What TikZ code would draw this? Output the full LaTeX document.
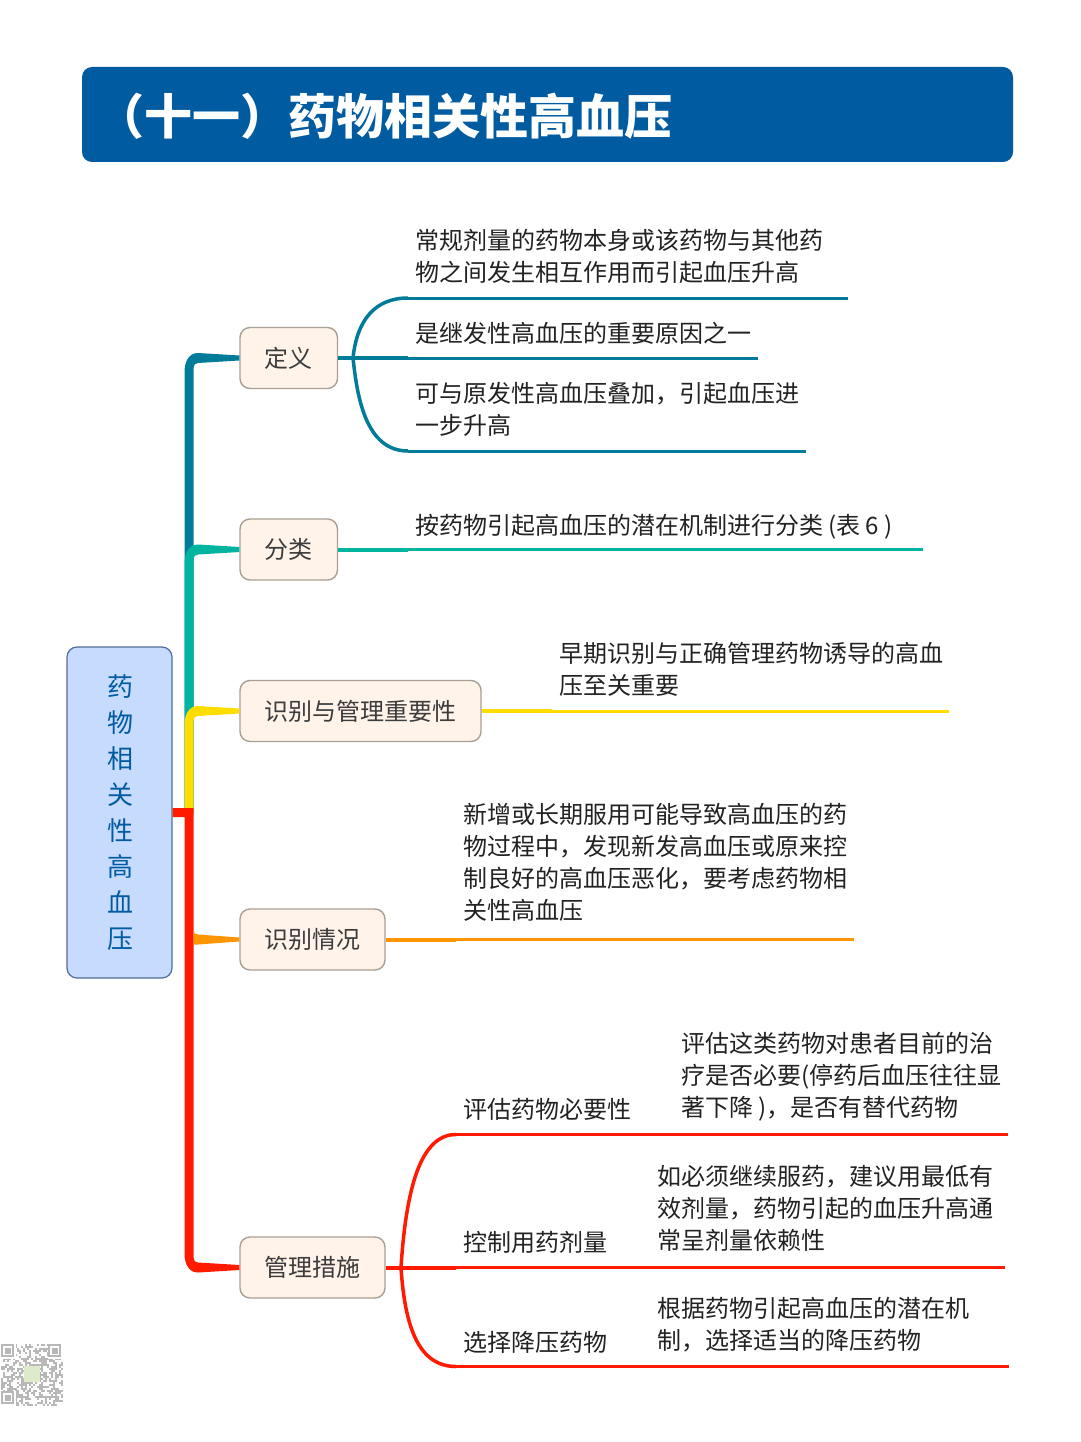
\documentclass[tikz,border=0pt]{standalone}
\usepackage{fontspec}
\setmainfont{Noto Sans CJK SC}
\usetikzlibrary{calc}
\definecolor{cdef}{HTML}{007C9A}
\definecolor{ccls}{HTML}{00B4A0}
\definecolor{cyel}{HTML}{FFDD00}
\definecolor{cora}{HTML}{FF9500}
\definecolor{cred}{HTML}{FF1A00}
\definecolor{ctitle}{HTML}{005BA1}
\definecolor{rootfill}{HTML}{C7DBFF}
\definecolor{rootline}{HTML}{4F6C9C}
\definecolor{boxfill}{HTML}{FFF3EA}
\definecolor{boxline}{HTML}{A89F95}
\definecolor{boxtext}{HTML}{3C3C3C}
\definecolor{leaftext}{HTML}{222222}
\definecolor{qrgray}{HTML}{B8B8B8}
\definecolor{qrgreen}{HTML}{DDEBCB}
\tikzset{
  topicbox/.style={draw=boxline,line width=1.4pt,fill=boxfill,rounded corners=10pt,
    text=boxtext,font=\fontsize{24}{32}\selectfont,inner sep=0pt,minimum height=61pt},
  leaf/.style={anchor=west,inner sep=0pt,align=left,text=leaftext,font=\fontsize{24}{32}\selectfont},
  stub/.style={line width=4pt},
  under/.style={line width=3pt},
  curved/.style={line width=3.5pt},
}
\newcommand\toptext[1]{\raisebox{-2pt}{#1}}
% tapered branch going up from the trunk to a topic box
\newcommand\upbranch[2]{%
  \fill[#1] let \p1=(#2.west), \p2=(root.east) in
    (184.5pt,\y2) -- (184.5pt,\y1-14pt)
    .. controls (184.5pt,\y1-5pt) and (188pt,\y1+5pt) .. (198pt,\y1+5pt)
    -- (\x1,\y1+2.5pt) -- (\x1,\y1-2.5pt) -- (198pt,\y1-5pt)
    .. controls (195pt,\y1-5pt) and (193.5pt,\y1-7pt) .. (193.5pt,\y1-10pt)
    -- (193.5pt,\y2) -- cycle;}
\begin{document}
\begin{tikzpicture}[x=1pt,y=-1pt]
\useasboundingbox (0,0) rectangle (1080,1442);
\fill[white] (0,0) rectangle (1080,1442);
% title
\fill[ctitle,rounded corners=10pt] (82,67) rectangle (1013,162);
\node[anchor=west,inner sep=0pt,text=white,font=\fontsize{48}{56}\selectfont\bfseries] (title) at (95.8,116.5) {（十一）药物相关性高血压};
% root
\node[draw=rootline,line width=1.2pt,fill=rootfill,rounded corners=10pt,minimum width=105pt,minimum height=331pt,inner sep=0pt,
  text=ctitle,align=center,font=\fontsize{26}{36}\selectfont] (root) at (119.5,812.5)
  {\kern1pt 药\\\kern1pt 物\\\kern1pt 相\\\kern1pt 关\\\kern1pt 性\\\kern1pt 高\\\kern1pt 血\\\kern1pt 压};
% topic boxes
\node[topicbox,minimum width=97.5pt] (def) at (288.75,358) {\toptext{定义}};
\node[topicbox,minimum width=97.5pt] (cls) at (288.75,549.5) {\toptext{分类}};
\node[topicbox,minimum width=241pt] (imp) at (360.5,711) {\toptext{识别与管理重要性}};
\node[topicbox,minimum width=145pt] (rec) at (312.5,939.5) {\toptext{识别情况}};
\node[topicbox,minimum width=145pt] (mng) at (312.5,1267.5) {\toptext{管理措施}};
% trunk and tapered branches
\upbranch{cdef}{def}
\upbranch{ccls}{cls}
\upbranch{cyel}{imp}
\fill[cred] let \p1=(mng.west), \p2=(root.east) in
  (\x2,\y2+4.5pt) -- (193.5pt,\y2+4.5pt) -- (193.5pt,\y1+10pt)
  .. controls (193.5pt,\y1+7pt) and (195pt,\y1+5pt) .. (198pt,\y1+5pt)
  -- (\x1,\y1+2.5pt) -- (\x1,\y1-2.5pt) -- (198pt,\y1-5pt)
  .. controls (188pt,\y1-5pt) and (184.5pt,\y1+5pt) .. (184.5pt,\y1+14pt)
  -- (184.5pt,\y2-4.5pt) -- (\x2,\y2-4.5pt) -- cycle;
\fill[cora] let \p1=(rec.west) in
  (193.5pt,\y1+9pt) .. controls (194pt,\y1+6pt) and (195pt,\y1+5pt) .. (198pt,\y1+5pt)
  -- (\x1,\y1+2pt) -- (\x1,\y1-2pt) -- (198pt,\y1-5pt) -- (193.5pt,\y1-5pt) -- cycle;
% leaf texts
\node[leaf] (d1) at (414.8,256) {常规剂量的药物本身或该药物与其他药\\物之间发生相互作用而引起血压升高};
\node[leaf] (d2) at (414.8,333) {是继发性高血压的重要原因之一};
\node[leaf] (d3) at (414.8,409) {可与原发性高血压叠加，引起血压进\\一步升高};
\node[leaf] (c1) at (414.8,526.5) {按药物引起高血压的潜在机制进行分类 (表 6 )};
\node[leaf] (i1) at (558.8,669) {早期识别与正确管理药物诱导的高血\\压至关重要};
\node[leaf] (r1) at (462.8,862) {新增或长期服用可能导致高血压的药\\物过程中，发现新发高血压或原来控\\制良好的高血压恶化，要考虑药物相\\关性高血压};
\node[leaf] (m1) at (462.8,1109) {评估药物必要性};
\node[leaf] (m1a) at (680.8,1076.5) {评估这类药物对患者目前的治\\疗是否必要(停药后血压往往显\\著下降 )，是否有替代药物};
\node[leaf] (m2) at (462.8,1242) {控制用药剂量};
\node[leaf] (m2a) at (656.8,1208) {如必须继续服药，建议用最低有\\效剂量，药物引起的血压升高通\\常呈剂量依赖性};
\node[leaf] (m3) at (462.8,1342) {选择降压药物};
\node[leaf] (m3a) at (656.8,1325) {根据药物引起高血压的潜在机\\制，选择适当的降压药物};
% leaf line coordinates
\coordinate (d1s) at (408,298);   \coordinate (d1e) at (848,298);
\coordinate (d2s) at (408,358);   \coordinate (d2e) at (758,358);
\coordinate (d3s) at (408,451);   \coordinate (d3e) at (806,451);
\coordinate (c1s) at (408,549.5); \coordinate (c1e) at (923,549.5);
\coordinate (i1s) at (552,711);   \coordinate (i1e) at (949,711);
\coordinate (r1s) at (456,939.5); \coordinate (r1e) at (854,939.5);
\coordinate (m1s) at (456,1134.5);\coordinate (m1e) at (1008,1134.5);
\coordinate (m2s) at (456,1267.5);\coordinate (m2e) at (1005,1267.5);
\coordinate (m3s) at (456,1366.5);\coordinate (m3e) at (1009,1366.5);
\coordinate (dfork) at (353,358);
\coordinate (mfork) at (401,1267.5);
% connectors: definition
\draw[cdef,stub] (def.east) -- (d2s);
\draw[cdef,under] (d2s) -- (d2e);
\draw[cdef,curved] (d1s) .. controls (375,298) and (357,320) .. (dfork) .. controls (357,395) and (365,451) .. (d3s);
\draw[cdef,under] (d1s) -- (d1e);
\draw[cdef,under] (d3s) -- (d3e);
% classification
\draw[ccls,stub] (cls.east) -- (c1s);
\draw[ccls,under] (c1s) -- (c1e);
% importance
\draw[cyel,stub] (imp.east) -- (i1s);
\draw[cyel,under] (i1s) -- (i1e);
% recognition
\draw[cora,stub] (rec.east) -- (r1s);
\draw[cora,under] (r1s) -- (r1e);
% management
\draw[cred,stub] (mng.east) -- (m2s);
\draw[cred,under] (m2s) -- (m2e);
\draw[cred,curved] (m1s) .. controls (420,1134.5) and (406,1190) .. (mfork) .. controls (405,1330) and (420,1366.5) .. (m3s);
\draw[cred,under] (m1s) -- (m1e);
\draw[cred,under] (m3s) -- (m3e);
% QR code
\pgfmathsetseed{42}
\foreach \i in {0,...,30}{\foreach \j in {0,...,30}{
  \pgfmathparse{rnd<0.5?1:0}
  \ifnum\pgfmathresult=1
    \fill[qrgray] ({0.5+\i*2},{1343.5+\j*2}) rectangle ++(2,2);
  \fi
}}
\foreach \qx/\qy in {1/1344,48/1344,1/1391}{
  \fill[white] (\qx-0.5,\qy-0.5) rectangle ++(15,15);
  \draw[qrgray,line width=2pt] (\qx+1,\qy+1) rectangle ++(11,11);
  \fill[qrgray] (\qx+4,\qy+4) rectangle ++(6,6);
}
\fill[qrgreen] (24,1366) rectangle (40,1382);
\end{tikzpicture}
\end{document}
